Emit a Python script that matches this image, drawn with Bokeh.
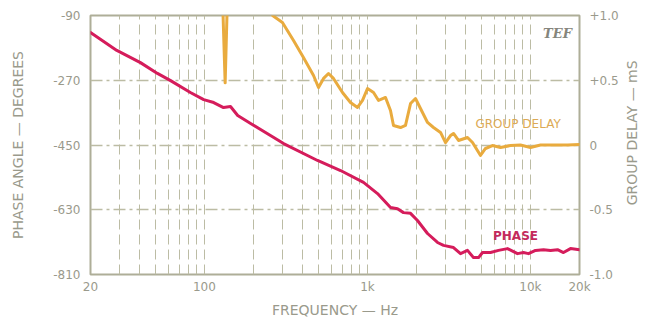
from math import pi
from bokeh.plotting import figure
from bokeh.layouts import row
from bokeh.models import Range1d, LinearAxis, FixedTicker, Label
from bokeh.core.properties import value
from bokeh.embed import file_html
from bokeh.resources import INLINE

# ---- data ----
freq_phase = [20, 29, 40.5, 51.5, 62, 82, 99, 114, 131, 144.5, 160, 192, 306, 494, 684,
              946, 1153, 1386, 1529, 1665, 1838, 2028, 2337, 2691, 2929, 3374, 3724, 4111,
              4475, 4804, 5083, 5689, 6370, 7232, 8332, 9068, 9732, 10740, 12030, 13280,
              14660, 15950, 17610, 20000]
phase_deg = [-137, -187, -221, -251, -271, -304, -324, -332, -346, -343, -368, -390, -446,
             -493, -521, -554, -585, -624, -627, -638, -640, -660, -696, -721, -729, -735,
             -752, -743, -763, -763, -749, -749, -743, -738, -752, -749, -752, -743, -741,
             -743, -741, -749, -738, -741]

# group delay (ms); values above +1.0 are off-scale in the original
freq_gd = [129, 134, 138.5, 247, 262, 301, 352, 405, 467, 501, 538, 577, 619, 703, 787,
           869, 933, 1001, 1090, 1170, 1291, 1385, 1445, 1596, 1712, 1838, 1972, 2116,
           2337, 2543, 2808, 3013, 3233, 3374, 3620, 4111, 4413, 4939, 5300, 5851, 6551,
           7546, 8690, 10010, 11530, 13850, 16880, 20000]
group_delay_ms = [1.15, 0.48, 1.15, 1.15, 1.0, 0.946, 0.807, 0.676, 0.537, 0.444, 0.514,
                  0.552, 0.514, 0.405, 0.328, 0.290, 0.344, 0.436, 0.405, 0.344, 0.367,
                  0.266, 0.151, 0.135, 0.151, 0.320, 0.359, 0.282, 0.174, 0.135, 0.097,
                  0.019, 0.073, 0.089, 0.035, 0.058, 0.019, -0.081, -0.027, -0.004, -0.019,
                  -0.004, 0.0, -0.019, 0.0, 0.0, 0.0, 0.004]

x_ticks = [20, 100, 1000, 10000, 20000]
x_tick_labels = ["20", "100", "1k", "10k", "20k"]
phase_ticks = [-90, -270, -450, -630, -810]
phase_tick_labels = ["-90", "-270", "-450", "-630", "-810"]
gd_ticks = [1.0, 0.5, 0.0, -0.5, -1.0]
gd_tick_labels = ["+1.0", "+0.5", "0", "-0.5", "-1.0"]
grid_freqs = [30, 40, 50, 60, 70, 80, 90, 100, 200, 300, 400, 500, 600, 700, 800, 900,
              1000, 2000, 3000, 4000, 5000, 6000, 7000, 8000, 9000, 10000]
grid_phase = [-270, -450, -630]
right_title = ["GROUP DELAY \u2014 mS"]

TXT = "#9a9a8c"
GRID = "#bcbca4"
FONT = "DejaVu Sans"

p = figure(width=624, height=320, x_axis_type="log",
           x_range=Range1d(20, 20000), y_range=Range1d(-810, -90),
           output_backend="svg", toolbar_location=None, title=None,
           min_border_left=90, min_border_right=45, min_border_top=15, min_border_bottom=46)
p.background_fill_color = "white"
p.border_fill_color = "white"
p.outline_line_color = "#aeae98"
p.outline_line_width = 2

p.extra_y_ranges = {"gd": Range1d(-1, 1)}

# grids
p.xgrid.ticker = FixedTicker(ticks=grid_freqs)
p.xgrid.grid_line_color = GRID
p.xgrid.grid_line_dash = "10 5"
p.xgrid.grid_line_width = 1
p.ygrid.ticker = FixedTicker(ticks=grid_phase)
p.ygrid.grid_line_color = GRID
p.ygrid.grid_line_dash = "12 4 3 4"
p.ygrid.grid_line_width = 1.3

def style_axis(ax):
    ax.axis_line_color = None
    ax.major_tick_line_color = None
    ax.minor_tick_line_color = None
    ax.major_tick_out = 0
    ax.major_tick_in = 0
    ax.major_label_text_color = TXT
    ax.major_label_text_font = FONT
    ax.major_label_text_font_size = "12px"
    ax.axis_label_text_color = TXT
    ax.axis_label_text_font = FONT
    ax.axis_label_text_font_size = "14px"
    ax.axis_label_text_font_style = "normal"

# bottom axis
xa = p.xaxis[0]
xa.ticker = FixedTicker(ticks=x_ticks, minor_ticks=[])
xa.major_label_overrides = {t: s for t, s in zip(x_ticks, x_tick_labels)}
style_axis(xa)
xa.major_label_standoff = 5
xa.axis_label = "FREQUENCY \u2014 Hz"
xa.axis_label_standoff = 5

# left axis
ya = p.yaxis[0]
ya.ticker = FixedTicker(ticks=phase_ticks, minor_ticks=[])
ya.major_label_overrides = {t: s for t, s in zip(phase_ticks, phase_tick_labels)}
style_axis(ya)
ya.major_label_standoff = 10
ya.axis_label = "PHASE ANGLE \u2014 DEGREES"
ya.axis_label_standoff = 24

# right axis (ticks only)
ra = LinearAxis(y_range_name="gd")
ra.ticker = FixedTicker(ticks=gd_ticks, minor_ticks=[])
ra.major_label_overrides = {t: s for t, s in zip(gd_ticks, gd_tick_labels)}
style_axis(ra)
ra.major_label_standoff = 10
p.add_layout(ra, "right")

# curves
p.line(freq_gd, group_delay_ms, y_range_name="gd", line_color="#e9ab3e",
       line_width=3, line_join="round", line_cap="round")
p.line(freq_phase, phase_deg, line_color="#d51c5b", line_width=3,
       line_join="round", line_cap="round")

# annotations inside the plot
p.add_layout(Label(x=8100, y=-704, text="PHASE", text_align="center",
                   text_baseline="middle", text_color="#c42a5c", text_font=FONT,
                   text_font_size="12px", text_font_style="bold"))
p.add_layout(Label(x=8400, y=0.166, y_range_name="gd", text="GROUP DELAY",
                   text_align="center", text_baseline="middle", text_color="#dcaa55",
                   text_font=FONT, text_font_size="12px"))
p.add_layout(Label(x=14660, y=-140, text="TEF", text_align="center",
                   text_baseline="middle", text_color="#85857c", text_font="DejaVu Serif",
                   text_font_size="13px", text_font_style="bold italic"))

# narrow strip on the right carrying the right-axis title, reading bottom-to-top
p2 = figure(width=24, height=320, x_range=Range1d(0, 1), y_range=Range1d(0, 1),
            output_backend="svg", toolbar_location=None, title=None, min_border=0)
p2.axis.visible = False
p2.grid.visible = False
p2.outline_line_color = None
p2.background_fill_color = "white"
p2.border_fill_color = "white"
p2.text(x=[0.333], y=[0.547], text=right_title, angle=pi / 2, text_align="center",
        text_baseline="middle", text_color=TXT, text_font=value(FONT),
        text_font_size="14px")

layout = row(p, p2, spacing=0)
open("out.html", "w").write(file_html(layout, INLINE))
